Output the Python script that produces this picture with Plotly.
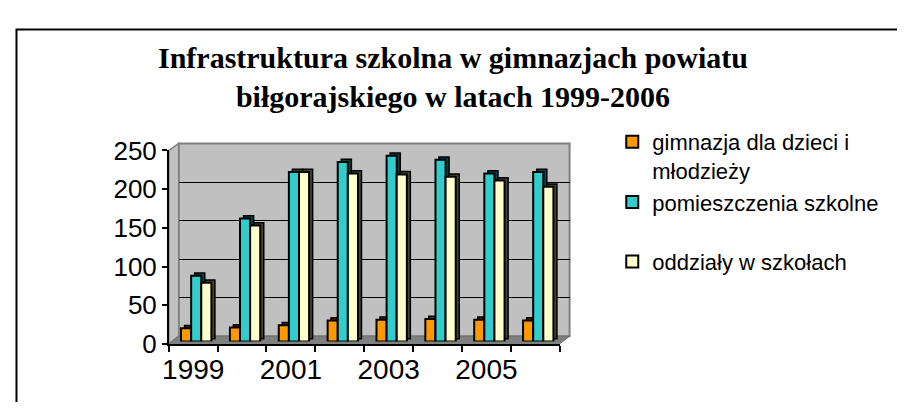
import plotly.graph_objects as go

# ---- data ----
years = [1999, 2000, 2001, 2002, 2003, 2004, 2005, 2006]
gimnazja = [17, 18, 21, 27, 28, 29, 28, 27]
pomieszczenia = [85, 159, 219, 232, 240, 235, 217, 219]
oddzialy = [76, 150, 219, 217, 216, 213, 208, 200]
series_names = ["gimnazja dla dzieci i<br>młodzieży", "pomieszczenia szkolne", "oddziały w szkołach"]
year_ticks = [1999, 2001, 2003, 2005]
value_ticks = [0, 50, 100, 150, 200, 250]

# figure sized so that the page (with the default 8px body margin) fits the window
W, H = 889, 394
OFF = 8
def px(x):
    return (x - OFF) / W
def py(y):
    return 1 - (y - OFF) / H

colors = ["#FF9900", "#33CCCC", "#FFFFCC"]
dark = ["#4a2c00", "#0c3f3f", "#45452f"]
offsets = [-0.31, -0.103, 0.104]
bw = 0.207
depth_x = 0.072
depth_y = 3.6

fig = go.Figure()
series = [gimnazja, pomieszczenia, oddzialy]
groups = ["g1", "g1", "g2"]

# empty helper traces so the axis frames are drawn
fig.add_trace(go.Scatter(x=[None], y=[None], xaxis="x", yaxis="y", showlegend=False, hoverinfo="skip"))
fig.add_trace(go.Scatter(x=[None], y=[None], xaxis="x2", yaxis="y2", showlegend=False, hoverinfo="skip"))

# depth (side/top) faces
for i, vals in enumerate(series):
    fig.add_trace(go.Bar(
        x=years, y=vals, base=depth_y, offset=offsets[i] + depth_x, width=bw,
        marker=dict(color=dark[i], line=dict(color="black", width=1.5)),
        showlegend=False, hoverinfo="skip", xaxis="x3", yaxis="y3"))
# front faces
for i, vals in enumerate(series):
    fig.add_trace(go.Bar(
        x=years, y=vals, offset=offsets[i], width=bw, name=series_names[i],
        legendgroup=groups[i],
        marker=dict(color=colors[i], line=dict(color="black", width=2)),
        xaxis="x3", yaxis="y3"))

font_main = "Liberation Sans, Arial, sans-serif"

shapes = [
    # outer frame
    dict(type="path", xref="paper", yref="paper",
         path=f"M {px(9.5)},{py(430)} L {px(9.5)},{py(15)} L {px(930)},{py(15)}",
         line=dict(color="black", width=2)),
    # back wall
    dict(type="rect", xref="paper", yref="paper", layer="below",
         x0=px(173), x1=px(567), y0=py(347), y1=py(138.5),
         fillcolor="#C0C0C0", line=dict(color="#808080", width=2)),
    # side wall
    dict(type="path", xref="paper", yref="paper", layer="below",
         path=f"M {px(163)},{py(146)} L {px(173)},{py(138.5)} L {px(173)},{py(347)} L {px(163)},{py(355.3)} Z",
         fillcolor="#C0C0C0", line=dict(color="#808080", width=1.5)),
    # floor
    dict(type="path", xref="paper", yref="paper", layer="below",
         path=f"M {px(163)},{py(355.3)} L {px(173)},{py(347)} L {px(567)},{py(347)} L {px(557)},{py(355.3)} Z",
         fillcolor="#808080", line=dict(color="#707070", width=1)),
]

fig.update_layout(
    width=W, height=H,
    margin=dict(l=0, r=0, t=0, b=0),
    paper_bgcolor="white",
    plot_bgcolor="rgba(0,0,0,0)",
    barmode="overlay",
    title=dict(
        text="<b>Infrastruktura szkolna w gimnazjach powiatu<br>biłgorajskiego w latach 1999-2006</b>",
        font=dict(family="Liberation Serif, Times New Roman, serif", size=30, color="black"),
        x=px(453), xanchor="center", y=py(68), yanchor="middle"),
    # front axes (labels, ticks)
    xaxis=dict(domain=[px(163), px(557)], range=[1998.5, 2006.5], anchor="y",
               tickmode="array", tickvals=year_ticks, ticks="",
               tickfont=dict(family=font_main, size=28, color="black"),
               showgrid=False, zeroline=False, showline=True, linecolor="black", linewidth=1.5,
               minor=dict(tickmode="linear", tick0=1998.5, dtick=1, ticks="outside",
                          ticklen=6, tickcolor="black", tickwidth=1.5, showgrid=False),
               fixedrange=True),
    yaxis=dict(domain=[py(355.3), py(146)], range=[0, 250], anchor="x",
               tickvals=value_ticks, ticks="outside", ticklen=5, tickcolor="black", tickwidth=1.5,
               tickfont=dict(family=font_main, size=26, color="black"),
               showgrid=False, zeroline=False, showline=True, linecolor="black", linewidth=1.5,
               fixedrange=True),
    # back wall axes (gridlines)
    xaxis2=dict(domain=[px(173), px(567)], range=[0, 1], anchor="y2",
                showticklabels=False, showgrid=False, zeroline=False, ticks="", fixedrange=True),
    yaxis2=dict(domain=[py(347), py(138.5)], range=[0, 250], anchor="x2",
                tickvals=[50, 100, 150, 200], showticklabels=False, ticks="",
                showgrid=True, gridcolor="black", gridwidth=1, zeroline=False, fixedrange=True),
    # bar axes
    xaxis3=dict(domain=[px(166), px(560)], range=[1998.5, 2006.5], anchor="y3",
                visible=False, fixedrange=True),
    yaxis3=dict(domain=[py(352.7), py(143.4)], range=[0, 250], anchor="x3",
                visible=False, fixedrange=True),
    legend=dict(x=px(610), xanchor="left", y=py(114), yanchor="top",
                font=dict(family=font_main, size=22, color="black"),
                valign="top", tracegroupgap=28, bgcolor="rgba(0,0,0,0)"),
    shapes=shapes,
    showlegend=True,
)

fig.write_html("out.html")
